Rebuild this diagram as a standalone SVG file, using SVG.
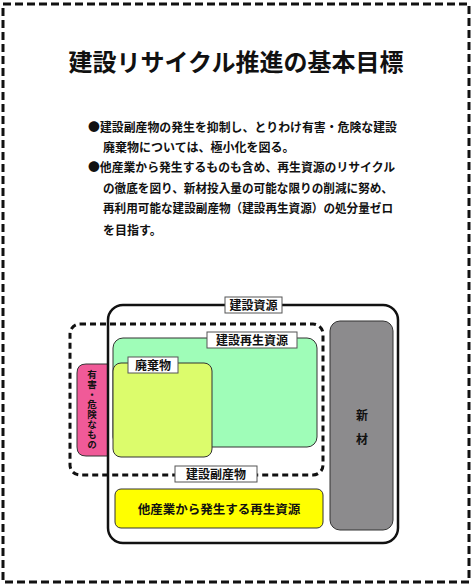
<svg xmlns="http://www.w3.org/2000/svg" width="473" height="586" viewBox="0 0 473 586">
<style>
text{font-family:"Noto Sans CJK JP","Noto Sans CJK SC",sans-serif;font-weight:bold;fill:#111}
.body{font-size:12px}
.lbl{font-size:12px}
.v{font-size:9.5px;writing-mode:vertical-rl;text-anchor:middle;letter-spacing:0.5px}
.lblbox{fill:#fff;stroke:#555;stroke-width:1}
.inner{stroke:#333;stroke-width:1}
</style>
<rect x="3" y="4" width="466" height="578" fill="#fff" stroke="#111" stroke-width="3" stroke-dasharray="8,4"/>
<text x="236" y="71" font-size="24" text-anchor="middle">建設リサイクル推進の基本目標</text>
<g id="body-text">
<text class="body" x="88" y="132" textLength="309" lengthAdjust="spacingAndGlyphs">●建設副産物の発生を抑制し、とりわけ有害・危険な建設</text>
<text class="body" x="103" y="152">廃棄物については、極小化を図る。</text>
<text class="body" x="88" y="172" textLength="307" lengthAdjust="spacingAndGlyphs">●他産業から発生するものも含め、再生資源のリサイクル</text>
<text class="body" x="103" y="193" textLength="290" lengthAdjust="spacingAndGlyphs">の徹底を図り、新材投入量の可能な限りの削減に努め、</text>
<text class="body" x="103" y="213" textLength="290" lengthAdjust="spacingAndGlyphs">再利用可能な建設副産物（建設再生資源）の処分量ゼロ</text>
<text class="body" x="103" y="235">を目指す。</text>
</g>
<g id="hazard">
<path d="M108 364 H86 Q77 364 77 373 V447 Q77 456 86 456 H108 Z" fill="#f05a98" stroke="#333" stroke-width="1"/>
<text class="v" x="92" y="410">有害・危険なもの</text>
</g>
<g id="recycled">
<rect class="inner" x="113" y="338" width="204" height="109" rx="10" fill="#9ffdb8"/>
</g>
<g id="waste">
<rect class="inner" x="113" y="363" width="99" height="94" rx="8" fill="#dcfc6c"/>
<rect class="lblbox" x="128" y="357" width="50" height="16"/>
<text class="lbl" x="153" y="369.5" text-anchor="middle">廃棄物</text>
</g>
<g id="byproduct">
<rect x="70" y="324" width="253" height="151" rx="10" fill="none" stroke="#111" stroke-width="3" stroke-dasharray="6,4"/>
</g>
<g id="construction-resources">
<rect x="108" y="305" width="290" height="238" rx="15" fill="none" stroke="#111" stroke-width="2.5"/>
<rect class="lblbox" x="225" y="297" width="57" height="16"/>
<text class="lbl" x="253.5" y="309.5" text-anchor="middle">建設資源</text>
</g>
<g id="recycled-label">
<rect class="lblbox" x="207" y="332" width="90" height="16"/>
<text class="lbl" x="252" y="344.5" text-anchor="middle">建設再生資源</text>
</g>
<g id="byproduct-label">
<rect class="lblbox" x="175" y="466" width="82" height="16"/>
<text class="lbl" x="216" y="478.5" text-anchor="middle">建設副産物</text>
</g>
<g id="other-industry">
<rect class="inner" x="115" y="489" width="208" height="39" rx="6" fill="#ffff00"/>
<text x="219" y="514" font-size="12.5" text-anchor="middle">他産業から発生する再生資源</text>
</g>
<g id="new-material">
<rect class="inner" x="330" y="321" width="63" height="209" rx="10" fill="#8c8b8d"/>
<text class="lbl" x="362" y="420" text-anchor="middle">新</text>
<text class="lbl" x="362" y="444" text-anchor="middle">材</text>
</g>
<g id="connectors"></g>
</svg>
